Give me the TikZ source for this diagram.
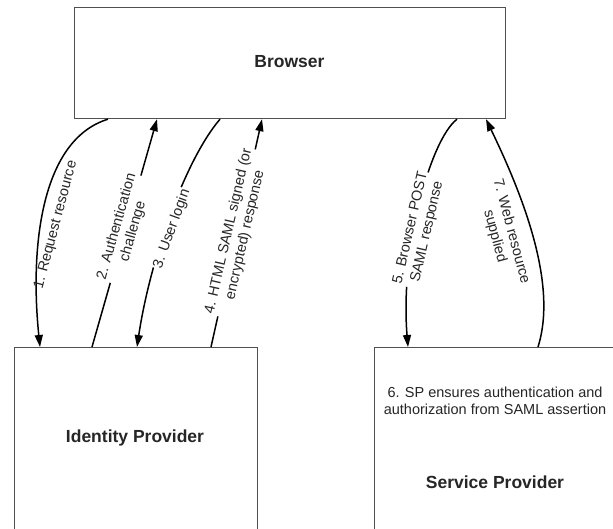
\documentclass[tikz,border=0pt]{standalone}
\usepackage{fontspec}
\setmainfont{Liberation Sans}
\usetikzlibrary{arrows.meta}
\definecolor{boxline}{HTML}{505050}
\tikzset{
  box/.style={draw=boxline, line width=1.2pt, fill=white, inner sep=0pt},
  bigtext/.style={font=\fontsize{17.5}{21}\selectfont\bfseries, text=black!85},
  small/.style={font=\fontsize{14.5}{17}\selectfont, text=black!85, align=center, inner sep=1pt},
  gaplabel/.style={small, fill=white},
  conn/.style={line width=1.5pt, -{Triangle[length=12pt,width=8pt]}},
  plain/.style={line width=1.5pt}
}
\begin{document}
\begin{tikzpicture}[x=1pt,y=-1pt]
\clip (0,0) rectangle (613,529);
\fill[white] (0,0) rectangle (613,529);
% boxes
\node[box, anchor=north west, minimum width=431pt, minimum height=111pt] (browser) at (74,7) {};
\node[bigtext] (browsertext) at (289.5,62) {Browser};
\node[box, anchor=north west, minimum width=243pt, minimum height=220pt] (idp) at (14,347) {};
\node[bigtext] (idptext) at (135,438) {Identity Provider};
\node[box, anchor=north west, minimum width=260pt, minimum height=220pt] (sp) at (374,347) {};
\node[small] (sptext) at (495,401) {6. SP ensures authentication and\\authorization from SAML assertion};
\node[bigtext] (spname) at (495,482) {Service Provider};
% connectors
\draw[conn] (108,0 |- browser.south) .. controls (40,140) and (30,250) .. (40,0 |- idp.north);
\draw[conn] (92,0 |- idp.north) -- (157,0 |- browser.south);
\draw[conn] (220,0 |- browser.south) .. controls (185,160) and (150,260) .. (137,0 |- idp.north);
\draw[conn] (211,0 |- idp.north) -- (262,0 |- browser.south);
\draw[conn] (457,0 |- browser.south) .. controls (430,140) and (400,250) .. (408,0 |- sp.north);
\draw[conn] (538,0 |- sp.north) .. controls (556,290) and (530,210) .. (486,0 |- browser.south);
% labels
\node[small, rotate=75] (l1) at (56,225) {1. Request resource};
\node[gaplabel, rotate=74] (l2) at (125,229) {2. Authentication\\challenge};
\node[gaplabel, rotate=70] (l3) at (172,229) {3. User login};
\node[gaplabel, rotate=77] (l4) at (237,233) {4. HTML SAML signed (or\\encrypted) response};
\node[gaplabel, rotate=77] (l5) at (419,230) {5. Browser POST\\SAML response};
\node[small, rotate=-75] (l7) at (503,234) {7. Web resource\\supplied};
\end{tikzpicture}
\end{document}
